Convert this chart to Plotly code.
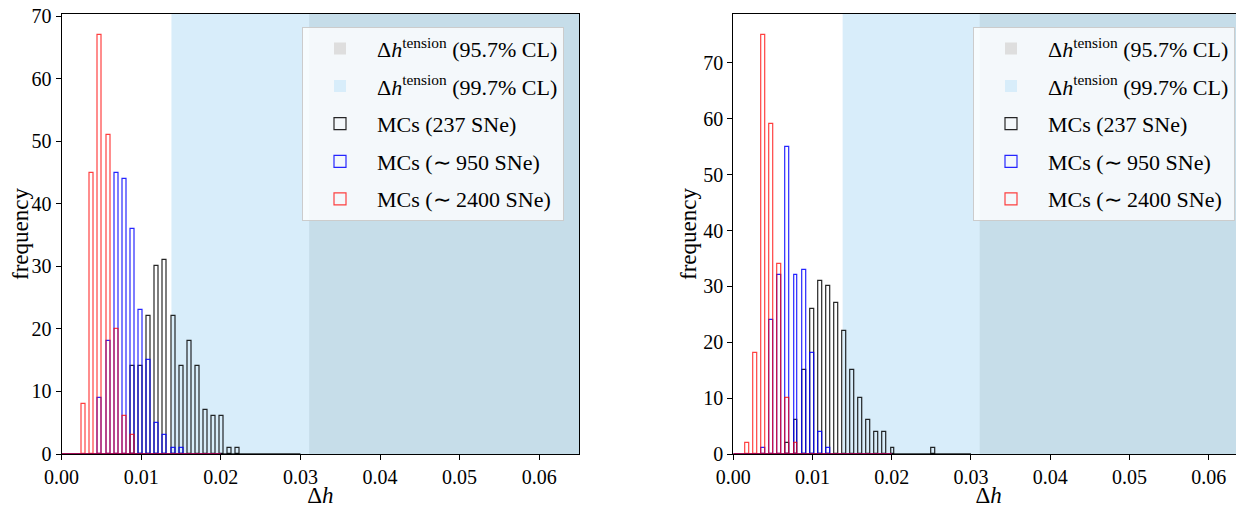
import plotly.graph_objects as go

# ---------------- data ----------------
# shared histogram bin centres (Δh)
bin_centers = [0.00075, 0.00177, 0.00279, 0.00381, 0.00483, 0.00585, 0.00687,
               0.00789, 0.00891, 0.00993, 0.01095, 0.01197, 0.01299, 0.01401,
               0.01503, 0.01605, 0.01707, 0.01809, 0.01911, 0.02013, 0.02115,
               0.02217, 0.02319, 0.02421, 0.02523]

# left panel counts per bin
black_left = [0, 0, 0, 0, 0, 0, 0, 0, 14, 14, 22, 30, 31, 22, 14, 18, 14, 7, 6, 6, 1, 1, 0, 0, 0]
blue_left = [0, 0, 0, 0, 9, 18, 45, 44, 36, 23, 15, 5, 3, 1, 1, 0, 0, 0, 0, 0, 0, 0, 0, 0, 0]
red_left = [0, 0, 8, 45, 67, 51, 20, 6, 3, 0, 0, 0, 0, 0, 0, 0, 0, 0, 0, 0, 0, 0, 0, 0, 0]

# right panel counts per bin
black_right = [0, 0, 0, 0, 0, 0, 2, 6, 15, 26, 31, 30, 27, 22, 15, 10, 6, 4, 4, 1, 0, 0, 0, 0, 1]
blue_right = [0, 0, 0, 1, 24, 32, 55, 32, 33, 18, 4, 1, 0, 0, 0, 0, 0, 0, 0, 0, 0, 0, 0, 0, 0]
red_right = [0, 2, 18, 75, 59, 34, 10, 2, 0, 0, 0, 0, 0, 0, 0, 0, 0, 0, 0, 0, 0, 0, 0, 0, 0]

# histogram ranges (baseline of the histograms)
hist_range_black = [0.0, 0.03]
hist_range_blue = [0.0, 0.02]
hist_range_red = [0.0, 0.02]

# tension regions
tension_997_start = 0.0138
tension_957_start = 0.0311
region_end = 0.065

series_names = ["MCs (237 SNe)", "MCs (∼ 950 SNe)", "MCs (∼ 2400 SNe)"]
region_names = ["Δ<i>h</i><sup>tension</sup> (95.7% CL)",
                "Δ<i>h</i><sup>tension</sup> (99.7% CL)"]
x_ticks = [0.0, 0.01, 0.02, 0.03, 0.04, 0.05, 0.06]
x_tick_labels = ["0.00", "0.01", "0.02", "0.03", "0.04", "0.05", "0.06"]
y_ticks = [0, 10, 20, 30, 40, 50, 60, 70]

# ---------------- style ----------------
FONT = "Liberation Serif"
col_black = "rgba(0,0,0,0.85)"
col_blue = "rgba(0,0,255,0.85)"
col_red = "rgba(255,0,0,0.75)"
col_gray_patch = "#dedede"
col_lblue = "#d8edfa"
col_dark = "#c6dde9"
BAR_W = 0.0005

# page offset of the figure inside the browser (body margin)
OFF = 8
W, H = 1244 - OFF, 508 - OFF


def px(xi):  # image x pixel -> paper fraction
    return (xi - OFF) / W


def py(yi):  # image y pixel -> paper fraction
    return 1 - (yi - OFF) / H


fig = go.Figure()


def add_panel(xa, ya, leg, black, blue, red):
    for counts, col, name, rng in [(black, col_black, series_names[0], hist_range_black),
                                   (blue, col_blue, series_names[1], hist_range_blue),
                                   (red, col_red, series_names[2], hist_range_red)]:
        xs = [c for c, v in zip(bin_centers, counts) if v > 0]
        ys = [v for v in counts if v > 0]
        # baseline of the histogram
        fig.add_trace(go.Scatter(x=rng, y=[0, 0], mode="lines",
                                 line=dict(color=col, width=1.5),
                                 xaxis=xa, yaxis=ya, showlegend=False,
                                 hoverinfo="skip"))
        fig.add_trace(go.Bar(x=xs, y=ys, width=BAR_W, name=name,
                             marker=dict(color="rgba(0,0,0,0)",
                                         line=dict(color=col, width=1.2)),
                             xaxis=xa, yaxis=ya, legend=leg, legendgroup=leg + name,
                             showlegend=True))
    # legend-only patches for the tension regions
    for name, col, rank in [(region_names[0], col_gray_patch, 1),
                            (region_names[1], col_lblue, 2)]:
        fig.add_trace(go.Bar(x=[None], y=[None], name=name,
                             marker=dict(color=col, line=dict(width=0)),
                             xaxis=xa, yaxis=ya, legend=leg, legendgroup=leg + name,
                             legendrank=rank, showlegend=True))
    for x0, col in [(tension_997_start, col_lblue), (tension_957_start, col_dark)]:
        fig.add_shape(type="rect", xref=xa, yref=ya + " domain",
                      x0=x0, x1=region_end, y0=0, y1=1,
                      fillcolor=col, line=dict(width=0), layer="below")


add_panel("x", "y", "legend", black_left, blue_left, red_left)
add_panel("x2", "y2", "legend2", black_right, blue_right, red_right)

axis_common = dict(showline=True, linecolor="black", linewidth=1.2, mirror=True,
                   ticks="outside", ticklen=5, tickcolor="black", showgrid=False,
                   zeroline=False, automargin=False, ticklabeloverflow="allow",
                   tickfont=dict(family=FONT, size=20, color="black"))

x_title = dict(text="Δ<i>h</i>", font=dict(family=FONT, size=23), standoff=5)
y_title = dict(text="frequency", font=dict(family=FONT, size=23), standoff=0)

legend_common = dict(yanchor="top", y=py(26.7), xanchor="right",
                     bgcolor="rgba(255,255,255,0.8)", bordercolor="#cccccc",
                     borderwidth=1, font=dict(family=FONT, size=22, color="black"),
                     traceorder="grouped", tracegroupgap=6, itemwidth=64)

fig.update_layout(
    width=W, height=H, autosize=False,
    margin=dict(l=0, r=0, t=0, b=0, autoexpand=False),
    paper_bgcolor="white", plot_bgcolor="white",
    barmode="overlay", bargap=0,
    font=dict(family=FONT, color="black"),
    xaxis=dict(domain=[px(61.6), px(579)], range=[0, 0.065],
               tickvals=x_ticks, ticktext=x_tick_labels, title=x_title,
               anchor="y", **axis_common),
    yaxis=dict(domain=[py(454), py(14)], range=[0, 70.35],
               tickvals=y_ticks, title=y_title, anchor="x", **axis_common),
    xaxis2=dict(domain=[px(733.3), 1.0], range=[0, 0.06446],
                tickvals=x_ticks, ticktext=x_tick_labels, title=x_title,
                anchor="y2", **axis_common),
    yaxis2=dict(domain=[py(454), py(14)], range=[0, 78.75],
                tickvals=y_ticks, title=y_title, anchor="x2", **axis_common),
    legend=dict(x=px(564), **legend_common),
    legend2=dict(x=px(1235), **legend_common),
)

fig.write_html("out.html")
